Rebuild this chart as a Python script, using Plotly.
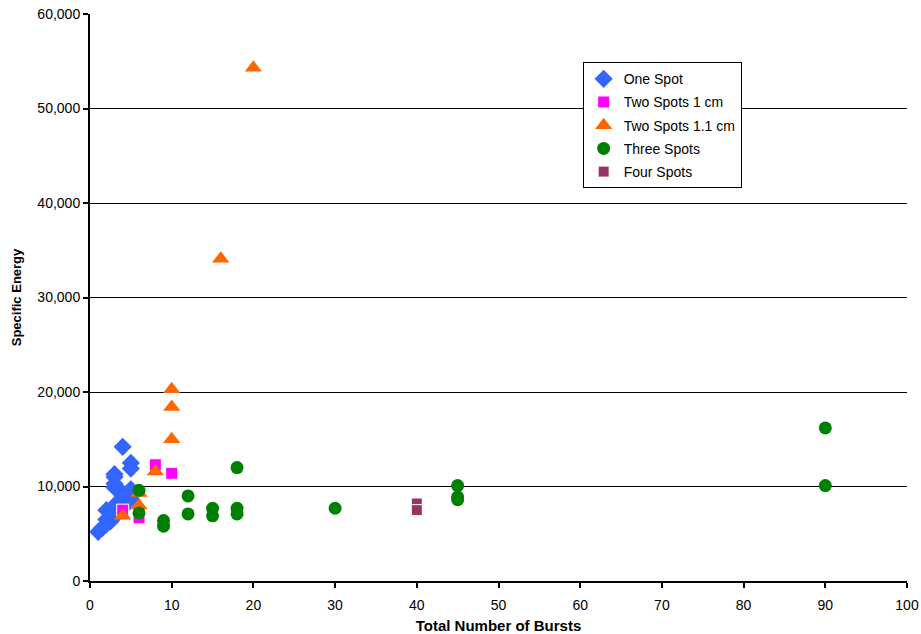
import plotly.graph_objects as go

one_x = [1, 1.5, 2, 2, 2, 2.5, 3, 3, 3, 3, 3, 3, 3, 4, 4, 4, 4, 4, 5, 5, 5, 5]
one_y = [5200, 5600, 6000, 6500, 7500, 6300, 6800, 7300, 8000, 9900, 10300, 11000, 11300,
         7700, 8300, 8900, 9300, 14200, 9700, 12500, 11900, 8700]

two1_x = [4, 6, 8, 10]
two1_y = [7500, 6700, 12300, 11400]

two11_x = [4, 6, 6, 8, 10, 10, 10, 16, 20]
two11_y = [6900, 8000, 9300, 11600, 15000, 18400, 20300, 34100, 54300]

three_x = [6, 6, 9, 9, 12, 12, 15, 15, 18, 18, 18, 30, 45, 45, 45, 90, 90]
three_y = [9600, 7200, 6400, 5800, 9000, 7100, 7700, 6900, 12000, 7700, 7100, 7700,
           10100, 8900, 8600, 16200, 10100]

four_x = [40, 40]
four_y = [8200, 7500]

fig = go.Figure()
fig.add_trace(go.Scatter(x=one_x, y=one_y, mode="markers", name="One Spot", legendgroup="a",
                         marker=dict(symbol="diamond", size=14, color="#3366FF")))
fig.add_trace(go.Scatter(x=two1_x, y=two1_y, mode="markers", name="Two Spots 1 cm", legendgroup="b",
                         marker=dict(symbol="square", size=12, color="#FF00FF",
                                     line=dict(color="white", width=1))))
fig.add_trace(go.Scatter(x=two11_x, y=two11_y, mode="markers", name="Two Spots 1.1 cm", legendgroup="c",
                         marker=dict(symbol="triangle-up", size=15, color="#FF6600")))
fig.add_trace(go.Scatter(x=three_x, y=three_y, mode="markers", name="Three Spots", legendgroup="d",
                         marker=dict(symbol="circle", size=13, color="#008000")))
fig.add_trace(go.Scatter(x=four_x, y=four_y, mode="markers", name="Four Spots", legendgroup="e",
                         marker=dict(symbol="square", size=11, color="#993366",
                                     line=dict(color="white", width=1))))

font = "Liberation Sans, Arial, sans-serif"
fig.update_layout(
    width=921, height=634,
    margin=dict(l=90, r=14, t=14, b=53),
    plot_bgcolor="white", paper_bgcolor="white",
    font=dict(family=font, size=14, color="black"),
    showlegend=True,
    legend=dict(x=0.603, y=0.915, xanchor="left", yanchor="top",
                bordercolor="black", borderwidth=1, bgcolor="white",
                font=dict(size=14), tracegroupgap=2, itemwidth=30),
    xaxis=dict(range=[0, 100], dtick=10, showgrid=False, zeroline=False,
               showline=True, linecolor="black", linewidth=2, automargin=False,
               ticks="outside", ticklen=5, tickcolor="black", tickwidth=2,
               ticklabelstandoff=5, ticklabeloverflow="allow",
               title=dict(text="<b>Total Number of Bursts</b>", font=dict(size=15), standoff=11)),
    yaxis=dict(range=[0, 60000], dtick=10000, tickformat=",d",
               showgrid=True, gridcolor="black", gridwidth=1, zeroline=False,
               showline=True, linecolor="black", linewidth=2, automargin=False,
               ticks="outside", ticklen=5, tickcolor="black", tickwidth=2,
               ticklabeloverflow="allow",
               title=dict(text="<b>Specific Energy</b>", font=dict(size=13), standoff=13)),
)

fig.write_html("out.html", config={"displayModeBar": False},
               post_script="document.body.style.margin='0';document.body.style.overflow='hidden';")
